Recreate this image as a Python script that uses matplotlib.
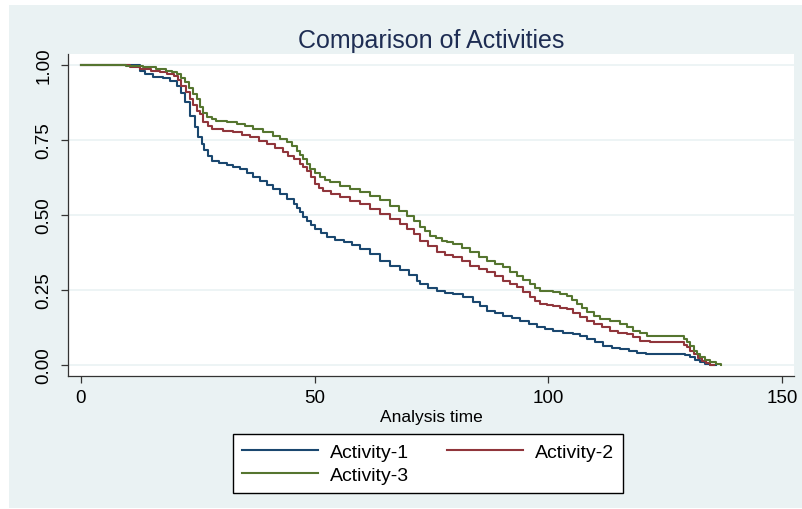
import matplotlib
matplotlib.use('Agg')
import matplotlib.pyplot as plt
from matplotlib.patches import Rectangle

plt.rcParams['font.family'] = ['Liberation Sans', 'DejaVu Sans']

# survival estimates (step curves)
t1 = [0, 12.6, 13.7, 15.5, 17.5, 19.1, 20.5, 21.5, 22.3, 23.3, 24.4, 25.1, 25.8, 26.4, 27.2,
      28.0, 29.5, 31.2, 32.6, 34.0, 35.5, 36.9, 38.3, 39.8, 41.2, 42.6, 44.0, 45.5, 46.2, 46.9,
      47.6, 48.3, 49.2, 50.1, 51.3, 52.6, 54.4, 56.2, 58.0, 59.7, 61.8, 64.0, 66.2, 68.3, 70.1,
      71.9, 72.6, 74.3, 76.1, 77.9, 79.7, 81.8, 84.0, 85.4, 86.9, 88.6, 90.4, 92.2, 94.0, 95.8,
      97.6, 99.3, 101.1, 103.2, 105.4, 106.8, 108.3, 110.0, 111.8, 113.6, 115.4, 117.2, 119.0,
      121.0, 128.2, 129.3, 130.4, 131.5, 132.5, 133.6, 134.7, 136.0]
s1 = [1.0, 0.980, 0.969, 0.960, 0.955, 0.947, 0.930, 0.905, 0.876, 0.830, 0.792, 0.760, 0.735,
      0.715, 0.695, 0.680, 0.672, 0.666, 0.660, 0.653, 0.640, 0.625, 0.612, 0.599, 0.585, 0.569,
      0.553, 0.536, 0.522, 0.508, 0.494, 0.481, 0.467, 0.453, 0.438, 0.425, 0.416, 0.409, 0.398,
      0.386, 0.368, 0.347, 0.330, 0.318, 0.300, 0.280, 0.270, 0.258, 0.247, 0.241, 0.236, 0.225,
      0.209, 0.195, 0.181, 0.172, 0.164, 0.156, 0.148, 0.137, 0.125, 0.119, 0.114, 0.108, 0.103,
      0.095, 0.087, 0.076, 0.064, 0.058, 0.053, 0.046, 0.040, 0.037, 0.037, 0.032, 0.026, 0.017,
      0.009, 0.004, 0.0, 0.0]

t2 = [0, 10.5, 12.6, 15.0, 16.9, 18.5, 19.8, 20.7, 21.5, 22.4, 23.3, 24.0, 24.8, 25.5, 26.2,
      27.1, 28.0, 30.3, 32.6, 34.4, 36.2, 38.0, 39.8, 41.5, 43.3, 44.4, 45.5, 46.9, 47.6, 48.3,
      49.2, 50.1, 51.0, 51.9, 53.6, 55.4, 57.6, 59.7, 61.8, 64.0, 66.2, 68.3, 69.7, 71.2, 72.6,
      74.3, 76.1, 77.9, 79.7, 81.5, 83.3, 85.1, 86.9, 88.6, 90.4, 91.8, 93.3, 94.7, 96.1, 97.2,
      98.3, 99.7, 101.1, 102.5, 104.0, 105.4, 106.8, 108.3, 109.7, 111.5, 113.3, 115.0, 116.8,
      118.2, 119.7, 121.8, 128.2, 129.0, 129.7, 130.4, 131.1, 132.0, 132.9, 133.8, 134.7, 135.4]
s2 = [1.0, 0.993, 0.986, 0.980, 0.975, 0.970, 0.963, 0.948, 0.930, 0.908, 0.886, 0.866, 0.847,
      0.836, 0.810, 0.795, 0.786, 0.780, 0.775, 0.767, 0.758, 0.747, 0.736, 0.722, 0.708, 0.697,
      0.686, 0.669, 0.658, 0.647, 0.625, 0.603, 0.590, 0.580, 0.569, 0.558, 0.547, 0.536, 0.520,
      0.503, 0.487, 0.470, 0.453, 0.436, 0.414, 0.395, 0.375, 0.367, 0.359, 0.345, 0.331, 0.320,
      0.309, 0.295, 0.281, 0.270, 0.259, 0.242, 0.225, 0.214, 0.203, 0.199, 0.195, 0.190, 0.186,
      0.172, 0.159, 0.148, 0.137, 0.126, 0.114, 0.108, 0.103, 0.092, 0.081, 0.076, 0.076, 0.067,
      0.059, 0.048, 0.037, 0.025, 0.014, 0.006, 0.0, 0.0]

t3 = [0, 9.7, 13.3, 16.0, 18.3, 19.5, 20.5, 21.4, 22.3, 23.2, 24.0, 24.8, 25.5, 26.2, 26.9,
      28.0, 29.0, 31.2, 33.3, 35.1, 36.9, 39.0, 41.2, 42.6, 44.0, 45.1, 46.2, 46.9, 47.6, 48.3,
      49.0, 50.1, 51.2, 52.3, 53.3, 55.5, 57.6, 59.7, 61.9, 64.0, 66.2, 68.0, 69.7, 71.2, 72.6,
      73.7, 74.7, 76.0, 77.2, 78.4, 79.7, 81.5, 83.3, 85.1, 86.9, 88.6, 90.4, 91.8, 93.3, 94.7,
      96.1, 97.2, 98.3, 99.7, 101.1, 102.5, 104.0, 105.0, 106.1, 107.2, 108.3, 109.7, 111.1,
      113.3, 115.4, 116.8, 118.2, 119.7, 121.1, 128.2, 129.0, 129.7, 130.4, 131.1, 131.8, 132.5,
      133.6, 134.7, 135.8, 136.9]
s3 = [1.0, 0.995, 0.991, 0.985, 0.980, 0.975, 0.969, 0.955, 0.941, 0.922, 0.902, 0.885, 0.860,
      0.840, 0.825, 0.818, 0.814, 0.808, 0.803, 0.795, 0.786, 0.775, 0.764, 0.753, 0.742, 0.728,
      0.714, 0.700, 0.686, 0.670, 0.653, 0.638, 0.625, 0.616, 0.608, 0.597, 0.586, 0.575, 0.564,
      0.548, 0.531, 0.514, 0.497, 0.478, 0.459, 0.445, 0.431, 0.422, 0.413, 0.408, 0.403, 0.389,
      0.375, 0.361, 0.347, 0.336, 0.325, 0.311, 0.297, 0.284, 0.270, 0.258, 0.247, 0.245, 0.242,
      0.236, 0.231, 0.217, 0.203, 0.189, 0.175, 0.164, 0.153, 0.145, 0.137, 0.125, 0.114, 0.106,
      0.098, 0.097, 0.085, 0.076, 0.062, 0.048, 0.037, 0.026, 0.016, 0.009, 0.004, 0.0]

labels = ['Activity-1', 'Activity-2', 'Activity-3']
colors = ['#1A476F', '#90353B', '#55752F']
xticks = [0, 50, 100, 150]
yticks = [0, 0.25, 0.5, 0.75, 1.0]
yticklabels = ['0.00', '0.25', '0.50', '0.75', '1.00']

W, H = 803, 510
fig = plt.figure(figsize=(W / 100, H / 100), dpi=100, facecolor='white')
# stata-ish light blue graph region
bg = Rectangle((9 / W, 1 / H), 1 - 9 / W, 1 - 7 / H, transform=fig.transFigure,
               facecolor='#EAF2F3', edgecolor='none', zorder=-10)
fig.patches.append(bg)

ax = fig.add_axes([68 / W, 133 / H, 726 / W, 322 / H])
ax.set_facecolor('white')

lines = []
for t, s, lab, c in zip([t1, t2, t3], [s1, s2, s3], labels, colors):
    ln, = ax.step(t, s, where='post', color=c, lw=1.5, label=lab)
    lines.append(ln)

ax.set_xlim(-2.78, 152.6)
ax.set_ylim(-0.0366, 1.0356)
ax.set_xticks(xticks)
ax.set_yticks(yticks)
ax.set_yticklabels(yticklabels, rotation=90, va='center')
ax.tick_params(axis='both', direction='out', length=5, width=0.9, color='#333333',
               labelsize=13.5, labelcolor='black')
ax.tick_params(axis='y', pad=6)
ax.tick_params(axis='x', pad=4.5)
ax.grid(axis='y', color='#EAF2F3', lw=1.2)
ax.set_axisbelow(True)
for side in ['top', 'right']:
    ax.spines[side].set_visible(False)
for side in ['left', 'bottom']:
    ax.spines[side].set_color('#333333')
    ax.spines[side].set_linewidth(0.9)

ax.set_xlabel('Analysis time', fontsize=12.5, labelpad=2)
ax.set_title('Comparison of Activities', fontsize=18, color='#1E2D53', pad=5)

# row-wise order: 1, 2 on the first row, 3 below
order = [0, 2, 1]
leg = fig.legend([lines[i] for i in order], [labels[i] for i in order],
                 loc='upper left', bbox_to_anchor=(233 / W, 1 - 435 / H), ncol=2,
                 fontsize=14, frameon=True, fancybox=False, edgecolor='black',
                 facecolor='white', framealpha=1,
                 borderaxespad=0, borderpad=0.46, handlelength=3.9, handletextpad=0.62,
                 columnspacing=1.95, labelspacing=0.3)
leg.get_frame().set_linewidth(1.0)

plt.savefig('out.png', dpi=100, facecolor=fig.get_facecolor())
